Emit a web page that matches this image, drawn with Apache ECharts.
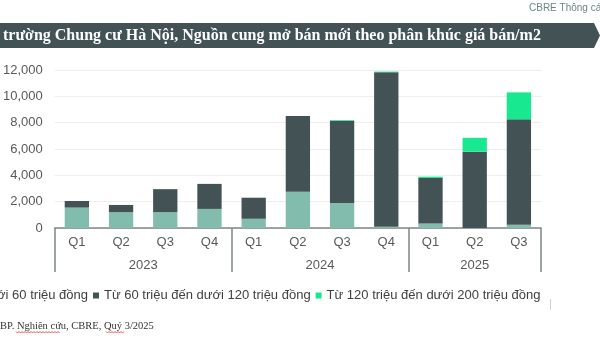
<!DOCTYPE html>
<html><head><meta charset="utf-8">
<script src="https://cdn.jsdelivr.net/npm/echarts@6/dist/echarts.min.js"></script>
<style>html,body{margin:0;padding:0;background:#fff;}#c{width:600px;height:343px;}</style>
</head><body><div id="c"></div>
<script>
const quarters = ['Q1','Q2','Q3','Q4','Q1','Q2','Q3','Q4','Q1','Q2','Q3'];
const years = ['2023','2024','2025'];
const yearCenters = [4, 12, 19]; // in half-category units
const seriesNames = ['Dưới 60 triệu đồng','Từ 60 triệu đến dưới 120 triệu đồng','Từ 120 triệu đến dưới 200 triệu đồng'];
const under60 = [1550, 1200, 1200, 1450, 700, 2750, 1900, 100, 350, 0, 250];
const from60to120 = [500, 550, 1750, 1900, 1600, 5750, 6250, 11730, 3450, 5800, 8000];
const from120to200 = [0, 0, 0, 0, 0, 0, 50, 50, 100, 1050, 2050];
const yTicks = [0, 2000, 4000, 6000, 8000, 10000, 12000];
const titleText = 'trường Chung cư Hà Nội, Nguồn cung mở bán mới theo phân khúc giá bán/m2';
const sourceText = 'BP. Nghiên cứu, CBRE, Quý 3/2025';
const topRightText = 'CBRE Thông cáo';

function squiggle(x1, x2, y) {
  const pts = [];
  let up = true;
  for (let x = x1; x <= x2; x += 1.5) { pts.push([x, up ? y : y + 1.5]); up = !up; }
  return {type: 'polyline', shape: {points: pts}, style: {stroke: '#e03030', lineWidth: 0.8, fill: null}};
}

const colors = ['#82bcad', '#435254', '#18e890'];
const chart = echarts.init(document.getElementById('c'), null, {renderer: 'canvas'});
const option = {
  animation: false,
  color: colors,
  grid: {left: 50, right: 59, top: 70, bottom: 115, containLabel: false},
  legend: {
    left: -37, top: 284,
    itemWidth: 6, itemHeight: 6, itemGap: 5,
    icon: 'rect',
    textStyle: {fontFamily: 'Liberation Sans', fontSize: 13, color: '#404040'},
    data: seriesNames
  },
  xAxis: [{
    type: 'category', data: quarters, position: 'bottom',
    axisLine: {lineStyle: {color: '#7f8587', width: 1.5}},
    axisTick: {show: true, length: 44, interval: (i) => i % 4 === 0, lineStyle: {color: '#7f8587', width: 1.5}},
    axisLabel: {interval: 0, margin: 8, fontFamily: 'Liberation Sans', fontSize: 13, color: '#595959'}
  }, {
    type: 'value', min: 0, max: 22, interval: 1, position: 'bottom',
    axisLine: {show: false}, axisTick: {show: false}, splitLine: {show: false},
    axisLabel: {margin: 31, fontFamily: 'Liberation Sans', fontSize: 13, color: '#595959',
      showMinLabel: true, showMaxLabel: true,
      formatter: (v) => { const k = yearCenters.indexOf(v); return k >= 0 ? years[k] : ''; }}
  }],
  yAxis: {
    type: 'value', min: yTicks[0], max: yTicks[yTicks.length-1], interval: 2000,
    axisLine: {show: false}, axisTick: {show: false},
    splitLine: {lineStyle: {color: '#eeeeee', width: 1}},
    axisLabel: {margin: 12, fontFamily: 'Liberation Sans', fontSize: 13, color: '#595959',
      formatter: (v) => v.toLocaleString('en-US')}
  },
  series: [
    {name: seriesNames[0], type: 'bar', stack: 's', data: under60, barWidth: '55%', xAxisIndex: 0},
    {name: seriesNames[1], type: 'bar', stack: 's', data: from60to120, barWidth: '55%', xAxisIndex: 0},
    {name: seriesNames[2], type: 'bar', stack: 's', data: from120to200, barWidth: '55%', xAxisIndex: 0}
  ],
  graphic: [
    {type: 'polygon', shape: {points: [[0,23],[594,23],[600,35.5],[594,48],[0,48]]}, style: {fill: '#435254'}, z: 1},
    {type: 'text', left: 3, top: 27.5, style: {text: titleText, fill: '#ffffff', font: 'bold 16px "Liberation Serif"'}, z: 2},
    {type: 'text', left: 529, top: 3, style: {text: topRightText, fill: '#6b8583', font: '10px "Liberation Sans"'}},
    {type: 'text', left: 0, top: 321, style: {text: sourceText, fill: '#333333', font: '10.5px "Liberation Serif"'}},
    squiggle(16, 60, 331.5),
    squiggle(106, 124, 331.5),
    {type: 'line', shape: {x1: 550.5, y1: 299, x2: 550.5, y2: 310}, style: {stroke: '#d0d0d0', lineWidth: 1}}
  ]
};
chart.setOption(option);
</script></body></html>
